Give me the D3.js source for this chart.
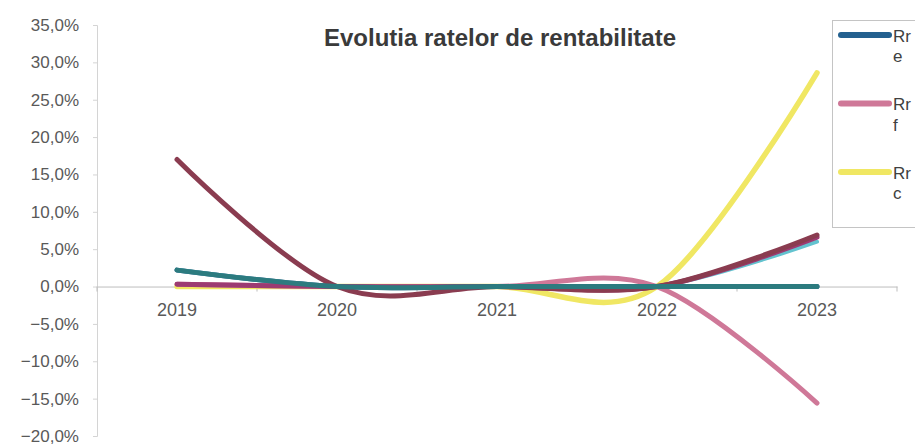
<!DOCTYPE html>
<html>
<head>
<meta charset="utf-8">
<script src="https://cdn.jsdelivr.net/npm/d3@7"></script>
<style>
  html, body { margin: 0; padding: 0; background: #fff; }
  svg { display: block; font-family: "Liberation Sans", Arial, sans-serif; }
</style>
</head>
<body>
<svg id="chart" width="915" height="446"></svg>
<script>
// Categories and tick values
const years = ["2019", "2020", "2021", "2022", "2023"];
const yTicks = [-20, -15, -10, -5, 0, 5, 10, 15, 20, 25, 30, 35];

// Rates in percent, one array per drawn line
const rre = [2.2, 0, 0, 0, 0];
const rrf = [0.3, 0, 0, 0, -15.6];
const rrc = [0, 0, 0, 0, 28.6];
const rrCyan = [2.2, 0, 0, 0, 6.0];
const rrMagenta = [0.3, 0, 0, 0, 6.6];
const rrMaroon = [17.0, 0, 0, 0, 6.9];
const rrTeal = [2.2, 0, 0, 0, 0];

const legendNames = ["Rre", "Rrf", "Rrc"];

// Draw order: bottom to top
const series = [
  { values: rrc, color: "#f0e763", width: 5.5 },
  { values: rrf, color: "#cf7898", width: 5 },
  { values: rre, color: "#23608f", width: 5 },
  { values: rrCyan, color: "#63c3cf", width: 4 },
  { values: rrMagenta, color: "#9c3b72", width: 5 },
  { values: rrMaroon, color: "#8a3c50", width: 5 },
  { values: rrTeal, color: "#2c7b7f", width: 5 }
];
const legendColors = ["#23608f", "#cf7898", "#f0e763"];

const svg = d3.select("#chart");
const plot = { left: 97, right: 897, top: 25, bottom: 436 };

const x = d3.scaleBand().domain(years).range([plot.left, plot.right]).padding(0);
const cx = d => x(d) + x.bandwidth() / 2;
const y = d3.scaleLinear().domain([-20, 35]).range([plot.bottom, plot.top]);

const locale = d3.formatLocale({ decimal: ",", thousands: ".", grouping: [3], currency: ["", " €"] });
const fmt = locale.format(".1f");

// Y axis
const yAxis = svg.append("g")
  .attr("transform", `translate(${plot.left},0)`)
  .call(d3.axisLeft(y).tickValues(yTicks).tickSize(4).tickPadding(14).tickFormat(d => fmt(d) + "%"));
yAxis.select(".domain").attr("stroke", "#d4d4d4");
yAxis.selectAll(".tick line").attr("stroke", "#d4d4d4");
yAxis.selectAll(".tick text")
  .attr("fill", "#595959")
  .style("font-size", "17px")
  .style("font-family", "'Liberation Sans', Arial, sans-serif");

// X axis along zero
const xAxis = svg.append("g")
  .attr("transform", `translate(0,${y(0)})`)
  .call(d3.axisBottom(x).tickSize(0).tickPadding(17));
xAxis.select(".domain").attr("stroke", "#bdbdbd");
xAxis.selectAll(".tick text")
  .attr("fill", "#595959")
  .style("font-size", "18px")
  .style("font-family", "'Liberation Sans', Arial, sans-serif");

// Boundary tick marks between categories
const bounds = years.map(d => x(d)).concat([x(years[years.length - 1]) + x.bandwidth()]);
svg.append("g").selectAll("line").data(bounds).join("line")
  .attr("x1", d => d).attr("x2", d => d)
  .attr("y1", y(0)).attr("y2", y(0) + 5)
  .attr("stroke", "#bdbdbd");

// Smoothed lines
const line = d3.line()
  .x((v, i) => cx(years[i]))
  .y(v => y(v))
  .curve(d3.curveCardinal.tension(0));

svg.append("g").selectAll("path").data(series).join("path")
  .attr("d", s => line(s.values))
  .attr("fill", "none")
  .attr("stroke", s => s.color)
  .attr("stroke-width", s => s.width)
  .attr("stroke-linecap", "round")
  .attr("stroke-linejoin", "round");

// Title
svg.append("text")
  .attr("x", 500).attr("y", 46)
  .attr("text-anchor", "middle")
  .attr("fill", "#3a3a3a")
  .style("font-size", "24px")
  .style("font-weight", "bold")
  .text("Evolutia ratelor de rentabilitate");

// Legend box
const lg = svg.append("g");
lg.append("rect")
  .attr("x", 832.5).attr("y", 20.5)
  .attr("width", 120).attr("height", 207)
  .attr("fill", "#fff")
  .attr("stroke", "#c4c4c4");

const items = lg.selectAll("g.item").data(legendNames).join("g")
  .attr("class", "item")
  .attr("transform", (d, i) => `translate(0,${35 + i * 68.5})`);
items.append("line")
  .attr("x1", 841).attr("x2", 889)
  .attr("stroke", (d, i) => legendColors[i])
  .attr("stroke-width", 6)
  .attr("stroke-linecap", "round");
const lt = items.append("text")
  .attr("fill", "#404040")
  .style("font-size", "17px");
lt.append("tspan").attr("x", 893).attr("y", 6.5).text(d => d.slice(0, 2));
lt.append("tspan").attr("x", 893).attr("y", 27).text(d => d.slice(2));
</script>
</body>
</html>
